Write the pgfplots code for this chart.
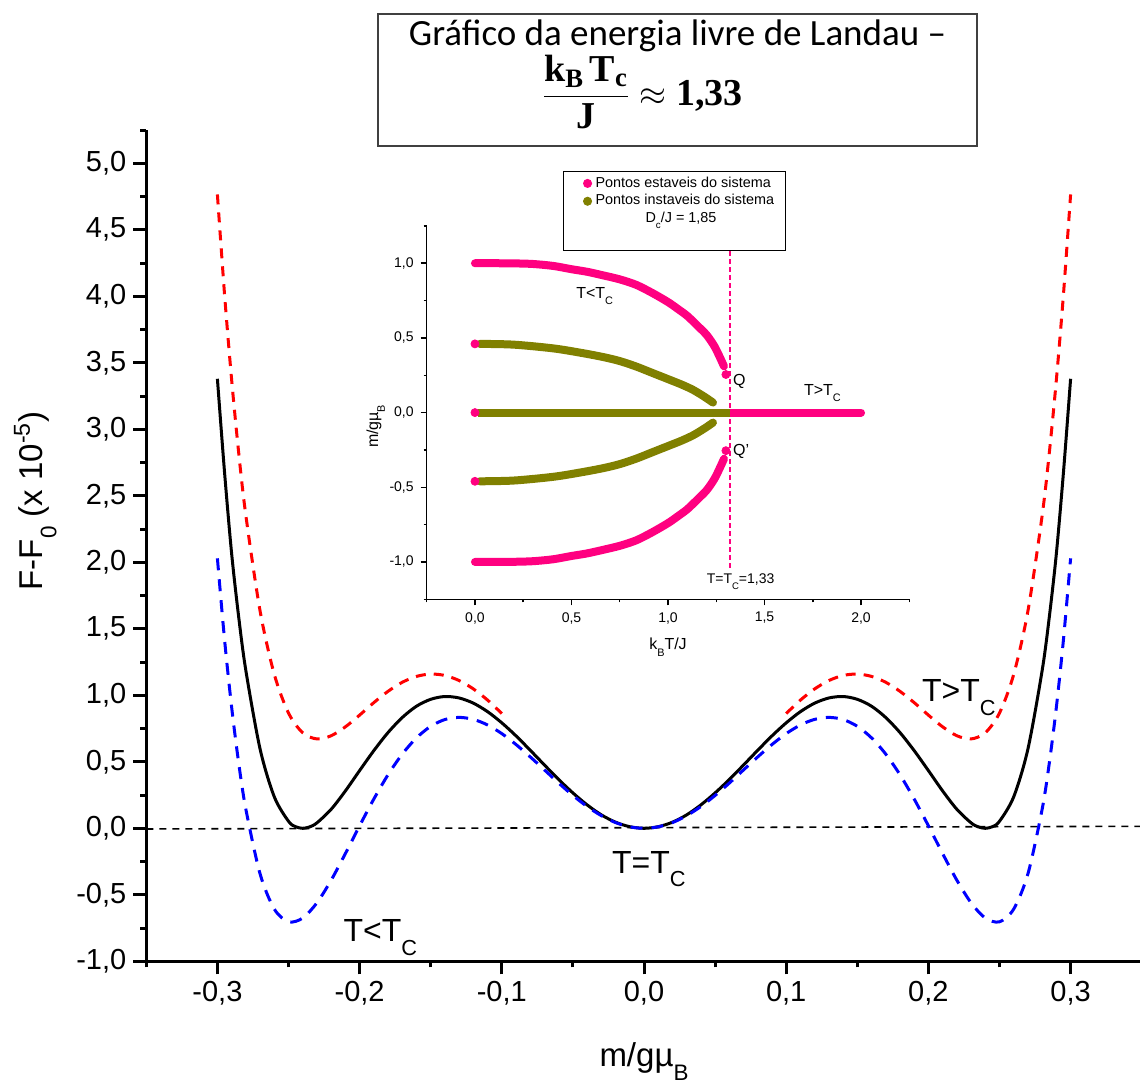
\documentclass[border=0pt]{standalone}
\usepackage{fontspec}
\setmainfont{Liberation Sans}
\newfontfamily\calibri{Carlito}
\newfontfamily\tserif{Liberation Serif}
\usepackage{amsmath}
\usepackage{graphicx}
\usepackage{pgfplots}
\pgfplotsset{compat=1.18}
\definecolor{pinkpt}{RGB}{255,0,128}
\definecolor{olivept}{RGB}{128,128,0}
\newcommand{\subC}[1]{\raisebox{-0.42em}{\scalebox{0.68}{#1}}}
\newcommand{\tb}[1]{\text{\tserif\bfseries #1}}
\pgfplotsset{
  numfmt/.style={
    /pgf/number format/fixed,
    /pgf/number format/fixed zerofill,
    /pgf/number format/precision=1,
    /pgf/number format/use comma,
    /pgf/number format/assume math mode=true}
}
\begin{document}
\begin{tikzpicture}
% ---------------- main axis ----------------
\begin{axis}[
  at={(0,0)}, anchor=south west,
  width=497.7pt, height=415.6pt, scale only axis,
  xmin=-0.35, xmax=0.35, ymin=-1, ymax=5.25,
  axis lines*=left,
  axis line style={line width=1.5pt},
  tick align=outside,
  xtick={-0.3,-0.2,-0.1,0,0.1,0.2,0.3},
  minor xtick={-0.35,-0.25,-0.15,-0.05,0.05,0.15,0.25,0.35},
  ytick={-1,-0.5,0,0.5,1,1.5,2,2.5,3,3.5,4,4.5,5},
  minor ytick={-0.75,-0.25,0.25,0.75,1.25,1.75,2.25,2.75,3.25,3.75,4.25,4.75,5.25},
  major tick length=6.5pt, minor tick length=3pt,
  every tick/.style={black, line width=1.5pt},
  tick label style={font=\fontsize{14.5}{16}\selectfont},
  numfmt,
  xlabel={m/gµ\subC{B}},
  ylabel={F-F\subC{0} (x 10\textsuperscript{-5})},
  label style={font=\fontsize{16.5}{19}\selectfont},
  xlabel style={at={(axis description cs:0.5,-0.121)}, anchor=center},
  ylabel style={at={(axis description cs:-0.1115,0.554)}, anchor=center},
  clip=false,
]
\addplot[black, line width=0.8pt, dash pattern=on 3.5pt off 3pt] coordinates {(-0.35,-0.005) (0.35,0.015)};
\addplot[black, line width=1.5pt, smooth] coordinates {
(-0.30,3.38) (-0.295,2.68) (-0.29,2.067) (-0.285,1.587) (-0.28,1.187) (-0.27,0.597) (-0.26,0.237) (-0.25,0.053) (-0.245,0.012) (-0.24,0) (-0.235,0.011) (-0.23,0.041) (-0.22,0.143) (-0.21,0.281) (-0.20,0.434) (-0.19,0.584) (-0.18,0.720) (-0.17,0.833) (-0.16,0.918) (-0.15,0.970) (-0.14,0.991) (-0.13,0.980) (-0.12,0.941) (-0.11,0.877) (-0.10,0.793) (-0.09,0.695) (-0.08,0.587) (-0.07,0.476) (-0.06,0.367) (-0.05,0.266) (-0.04,0.176) (-0.03,0.101) (-0.02,0.046) (-0.01,0.012) (0,0)
(0.01,0.012) (0.02,0.046) (0.03,0.101) (0.04,0.176) (0.05,0.266) (0.06,0.367) (0.07,0.476) (0.08,0.587) (0.09,0.695) (0.10,0.793) (0.11,0.877) (0.12,0.941) (0.13,0.980) (0.14,0.991) (0.15,0.970) (0.16,0.918) (0.17,0.833) (0.18,0.720) (0.19,0.584) (0.20,0.434) (0.21,0.281) (0.22,0.143) (0.23,0.041) (0.235,0.011) (0.24,0) (0.245,0.012) (0.25,0.053) (0.26,0.237) (0.27,0.597) (0.28,1.187) (0.285,1.587) (0.29,2.067) (0.295,2.68) (0.30,3.38)};
\addplot[red, line width=1.5pt, smooth, dash pattern=on 5pt off 4pt] coordinates {
(-0.30,4.766) (-0.295,4.018) (-0.29,3.374) (-0.285,2.821) (-0.28,2.353) (-0.27,1.635) (-0.26,1.158) (-0.25,0.867) (-0.24,0.718) (-0.23,0.672) (-0.22,0.696) (-0.21,0.763) (-0.20,0.851) (-0.19,0.945) (-0.18,1.030) (-0.17,1.098) (-0.16,1.142) (-0.15,1.160) (-0.14,1.149) (-0.13,1.111) (-0.12,1.048) (-0.11,0.964) (-0.10,0.863)};
\addplot[red, line width=1.5pt, smooth, dash pattern=on 5pt off 4pt] coordinates {
(0.10,0.863) (0.11,0.964) (0.12,1.048) (0.13,1.111) (0.14,1.149) (0.15,1.160) (0.16,1.142) (0.17,1.098) (0.18,1.030) (0.19,0.945) (0.20,0.851) (0.21,0.763) (0.22,0.696) (0.23,0.672) (0.24,0.718) (0.25,0.867) (0.26,1.158) (0.27,1.635) (0.28,2.353) (0.285,2.821) (0.29,3.374) (0.295,4.018) (0.30,4.766)};
\addplot[blue, line width=1.5pt, smooth, dash pattern=on 6pt off 4.5pt] coordinates {
(-0.30,2.030) (-0.295,1.422) (-0.29,0.912) (-0.285,0.489) (-0.28,0.144) (-0.27,-0.342) (-0.26,-0.607) (-0.25,-0.703) (-0.24,-0.675) (-0.23,-0.560) (-0.22,-0.390) (-0.21,-0.190) (-0.20,0.019) (-0.19,0.220) (-0.18,0.403) (-0.17,0.558) (-0.16,0.680) (-0.15,0.767) (-0.14,0.818) (-0.13,0.834) (-0.12,0.819) (-0.11,0.777) (-0.10,0.712) (-0.09,0.630) (-0.08,0.537) (-0.07,0.439) (-0.06,0.340) (-0.05,0.247) (-0.04,0.164) (-0.03,0.095) (-0.02,0.043) (-0.01,0.011) (0,0)
(0.01,0.011) (0.02,0.043) (0.03,0.095) (0.04,0.164) (0.05,0.247) (0.06,0.340) (0.07,0.439) (0.08,0.537) (0.09,0.630) (0.10,0.712) (0.11,0.777) (0.12,0.819) (0.13,0.834) (0.14,0.818) (0.15,0.767) (0.16,0.680) (0.17,0.558) (0.18,0.403) (0.19,0.220) (0.20,0.019) (0.21,-0.190) (0.22,-0.390) (0.23,-0.560) (0.24,-0.675) (0.25,-0.703) (0.26,-0.607) (0.27,-0.342) (0.28,0.144) (0.285,0.489) (0.29,0.912) (0.295,1.422) (0.30,2.030)};
\node[anchor=base west, font=\fontsize{16}{18}\selectfont, inner sep=0pt] at (axis cs:0.1953,0.952) {T>T\subC{C}};
\node[anchor=base west, font=\fontsize{16}{18}\selectfont, inner sep=0pt] at (axis cs:-0.0227,-0.338) {T=T\subC{C}};
\node[anchor=base west, font=\fontsize{16}{18}\selectfont, inner sep=0pt] at (axis cs:-0.2115,-0.853) {T<T\subC{C}};
\end{axis}
% ---------------- inset axis ----------------
\begin{axis}[
  at={(140.2pt,181pt)}, anchor=south west,
  width=241.3pt, height=186.7pt, scale only axis,
  xmin=-0.25, xmax=2.25, ymin=-1.25, ymax=1.25,
  axis lines*=left,
  axis line style={line width=0.75pt},
  tick align=outside,
  xtick={0,0.5,1,1.5,2},
  minor xtick={-0.25,0.25,0.75,1.25,1.75,2.25},
  ytick={-1,-0.5,0,0.5,1},
  minor ytick={-1.25,-0.75,-0.25,0.25,0.75,1.25},
  major tick length=3pt, minor tick length=1.6pt,
  every tick/.style={black, line width=0.75pt},
  tick label style={font=\fontsize{7}{8}\selectfont},
  numfmt,
  xlabel={k\subC{B}T/J},
  ylabel={m/gµ\subC{B}},
  label style={font=\fontsize{8}{9}\selectfont},
  xlabel style={at={(axis description cs:0.5,-0.128)}, anchor=center},
  ylabel style={at={(axis description cs:-0.1057,0.463)}, anchor=center},
  legend style={at={(0.2824,1.147)}, anchor=north west, draw=black, line width=0.5pt,
    font=\fontsize{7.2}{8.5}\selectfont, fill=white, inner xsep=3.5pt, inner ysep=1.5pt,
    row sep=0pt, nodes={inner ysep=1.1pt}},
  legend cell align=left,
]
\addlegendimage{only marks, mark=*, mark size=2pt, pinkpt}
\addlegendentry{Pontos estaveis do sistema}
\addlegendimage{only marks, mark=*, mark size=2pt, olivept}
\addlegendentry{Pontos instaveis do sistema}
\addlegendimage{empty legend}
\addlegendentry{\hspace{25pt}D\subC{c}/J = 1,85}
\addlegendimage{empty legend}
\addlegendentry{\strut}
% vertical Tc line
\addplot[color=pinkpt, line width=0.8pt, dash pattern=on 2.5pt off 1.5pt, forget plot] coordinates {(1.32,-1.04) (1.32,1.25)};
% stable branches
\addplot[pinkpt, line width=4pt, line cap=round, smooth, forget plot] coordinates {
(0,1.0) (0.1,1.0) (0.2,0.999) (0.3,0.995) (0.405,0.982) (0.5,0.96) (0.58,0.943) (0.66,0.92) (0.75,0.892) (0.836,0.855) (0.92,0.80) (1.0,0.74) (1.05,0.695) (1.1,0.647) (1.15,0.585) (1.2,0.52) (1.24,0.445) (1.267,0.375) (1.29,0.31)};
\addplot[pinkpt, line width=4pt, line cap=round, smooth, forget plot] coordinates {
(0,-1.0) (0.1,-1.0) (0.2,-0.999) (0.3,-0.995) (0.405,-0.982) (0.5,-0.96) (0.58,-0.943) (0.66,-0.92) (0.75,-0.892) (0.836,-0.855) (0.92,-0.80) (1.0,-0.74) (1.05,-0.695) (1.1,-0.647) (1.15,-0.585) (1.2,-0.52) (1.24,-0.445) (1.267,-0.375) (1.29,-0.31)};
\addplot[pinkpt, line width=4pt, line cap=round, forget plot] coordinates {(1.32,0) (2.0,0)};
\addplot[pinkpt, only marks, mark=*, mark size=2pt, forget plot] coordinates {(0,0.46) (0,0) (0,-0.46) (1.30,0.255) (1.30,-0.255)};
% unstable branches
\addplot[olivept, line width=4pt, line cap=round, smooth, forget plot] coordinates {
(0.025,0.46) (0.2,0.455) (0.405,0.43) (0.55,0.40) (0.664,0.372) (0.75,0.345) (0.836,0.308) (0.92,0.265) (1.01,0.219) (1.07,0.188) (1.13,0.152) (1.19,0.105) (1.233,0.067)};
\addplot[olivept, line width=4pt, line cap=round, smooth, forget plot] coordinates {
(0.025,-0.46) (0.2,-0.455) (0.405,-0.43) (0.55,-0.40) (0.664,-0.372) (0.75,-0.345) (0.836,-0.308) (0.92,-0.265) (1.01,-0.219) (1.07,-0.188) (1.13,-0.152) (1.19,-0.105) (1.233,-0.067)};
\addplot[olivept, line width=4pt, line cap=butt, forget plot] coordinates {(0.015,0) (1.32,0)};
\node[font=\fontsize{8}{9}\selectfont] at (axis cs:0.62,0.78) {T<T\subC{C}};
\node[font=\fontsize{8}{9}\selectfont] at (axis cs:1.80,0.13) {T>T\subC{C}};
\node[font=\fontsize{8}{9}\selectfont, anchor=west, inner sep=0pt] at (axis cs:1.335,0.21) {Q};
\node[font=\fontsize{8}{9}\selectfont, anchor=west, inner sep=0pt] at (axis cs:1.335,-0.26) {Q'};
\node[font=\fontsize{7}{8}\selectfont] at (axis cs:1.376,-1.134) {T=T\subC{C}=1,33};
\end{axis}
% ---------------- title box ----------------
\draw[line width=1.2pt, black!75] (115.85pt,407.65pt) rectangle (415.35pt,473.65pt);
\node[font=\calibri\fontsize{18.5}{22}\selectfont, inner sep=0pt] at (265.6pt,462.5pt) {Gráfico da energia livre de Landau –};
\node[font=\fontsize{19}{23}\selectfont, inner sep=0pt] at (248pt,434.5pt)
 {$\dfrac{\tb{k}_{\tb{B}}\,\tb{T}_{\tb{c}}}{\tb{J}}\approx\tb{1,33}$};
% frame matching the reference canvas
\pgfresetboundingbox
\path[use as bounding box] (-73.15pt,-62.35pt) rectangle (496.85pt,480.65pt);
\end{tikzpicture}
\end{document}
